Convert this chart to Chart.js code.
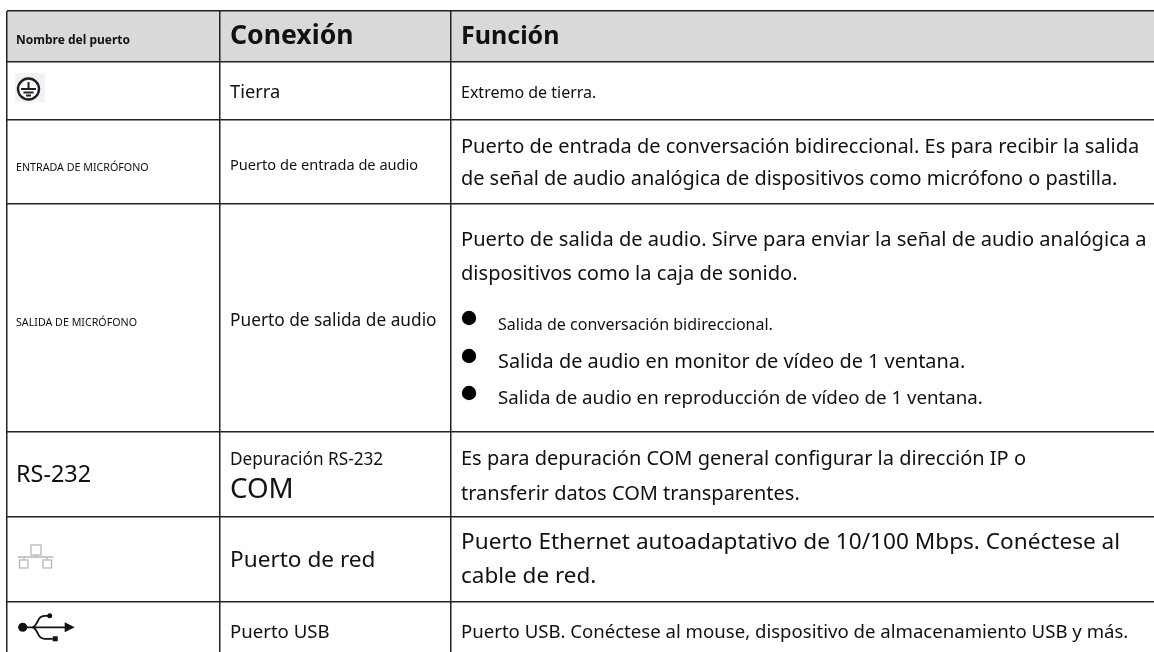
<!DOCTYPE html>
<html><head><meta charset="utf-8">
<style>html,body{margin:0;padding:0;background:#fff}#w{position:relative;width:1154px;height:652px}canvas{filter:blur(0.35px)}</style>
<script src="https://cdn.jsdelivr.net/npm/chart.js@4"></script>
</head><body><div id="w"><canvas id="c" width="1154" height="652"></canvas></div>
<script>
// Table structure
const columnEdges = [0, 213, 444];
const rowEdges = [0, 51, 109, 193, 421, 506, 591];
const headerBand = [0, 51];

// Cell texts
const headers = ["Nombre del puerto", "Conexión", "Función"];
const portNames = ["ENTRADA DE MICRÓFONO", "SALIDA DE MICRÓFONO", "RS-232"];
const connections = ["Tierra", "Puerto de entrada de audio", "Puerto de salida de audio", "Depuración RS-232", "COM", "Puerto de red", "Puerto USB"];
const functions = [
  "Extremo de tierra.",
  "Puerto de entrada de conversación bidireccional. Es para recibir la salida",
  "de señal de audio analógica de dispositivos como micrófono o pastilla.",
  "Puerto de salida de audio. Sirve para enviar la señal de audio analógica a",
  "dispositivos como la caja de sonido.",
  "Salida de conversación bidireccional.",
  "Salida de audio en monitor de vídeo de 1 ventana.",
  "Salida de audio en reproducción de vídeo de 1 ventana.",
  "Es para depuración COM general configurar la dirección IP o",
  "transferir datos COM transparentes.",
  "Puerto Ethernet autoadaptativo de 10/100 Mbps. Conéctese al",
  "cable de red.",
  "Puerto USB. Conéctese al mouse, dispositivo de almacenamiento USB y más."
];

// Text placement: [text, x, baseline y, size, weight]
const F = 'Noto Sans';
const placed = [
  [headers[0], 9, 33, 12, 700],
  [headers[1], 223, 33, 26.6, 700],
  [headers[2], 454, 33, 25, 700],
  [connections[0], 223, 86.7, 18.3, 400],
  [functions[0], 454, 86.7, 16, 400],
  [portNames[0], 9, 159.7, 10.7, 400],
  [connections[1], 223, 159, 14.6, 400],
  [functions[1], 454, 141.7, 20, 400],
  [functions[2], 454, 174, 19.9, 400],
  [portNames[1], 9, 315, 10.7, 400],
  [connections[2], 223, 315, 17.3, 400],
  [functions[3], 454, 234.7, 20.1, 400],
  [functions[4], 454, 269, 20.1, 400],
  [functions[5], 491, 319, 16, 400],
  [functions[6], 491, 357, 19.9, 400],
  [functions[7], 491, 393, 18.7, 400],
  [portNames[2], 9, 471, 23.4, 400],
  [connections[3], 223, 454, 17.2, 400],
  [connections[4], 223, 487, 27.7, 400],
  [functions[8], 454, 454, 20, 400],
  [functions[9], 454, 489, 20, 400],
  [connections[5], 223, 556, 22.6, 400],
  [functions[10], 454, 538, 22.6, 400],
  [functions[11], 454, 572, 22.5, 400],
  [connections[6], 223, 627, 18.6, 400],
  [functions[12], 454, 627, 18.6, 400]
];
const bullets = [[462, 307], [462, 345], [462, 382]];

const tablePlugin = {
  id: 'table',
  beforeDatasetsDraw(ch) {
    const {ctx, scales: {x, y}} = ch;
    ctx.save();
    ctx.globalCompositeOperation = 'destination-over';
    ctx.fillStyle = '#d9d9d9';
    ctx.fillRect(x.left, y.getPixelForValue(headerBand[0]), x.right - x.left, y.getPixelForValue(headerBand[1]) - y.getPixelForValue(headerBand[0]));
    ctx.restore();
  },
  afterDatasetsDraw(ch) {
    const {ctx, scales: {x, y}} = ch;
    const X = v => x.getPixelForValue(v), Y = v => y.getPixelForValue(v);
    ctx.save();
    ctx.fillStyle = '#111';
    ctx.textBaseline = 'alphabetic';
    ctx.textAlign = 'left';
    placed.forEach(([t, px, py, s, w]) => {
      ctx.font = `${w} ${s}px "${F}"`;
      ctx.fillText(t, X(px), Y(py));
    });
    // bullets
    ctx.fillStyle = '#000';
    bullets.forEach(([bx, by]) => { ctx.beginPath(); ctx.arc(X(bx), Y(by), 7.2, 0, 7); ctx.fill(); });
    // earth icon
    const ex = X(21.5), ey = Y(78);
    ctx.fillStyle = '#f0f2f5'; ctx.fillRect(ex - 13.5, ey - 16, 30, 29);
    ctx.strokeStyle = '#1c2126'; ctx.lineWidth = 2.4;
    ctx.fillStyle = '#fff'; ctx.beginPath(); ctx.arc(ex, ey, 10.5, 0, 7); ctx.fill(); ctx.stroke();
    ctx.lineWidth = 2;
    [[0, -7, 0, 0], [-7.5, 0, 7.5, 0], [-5, 3.5, 5, 3.5], [-2.5, 6.5, 2.5, 6.5]].forEach(([a, b, c, d]) => {
      ctx.beginPath(); ctx.moveTo(ex + a, ey + b); ctx.lineTo(ex + c, ey + d); ctx.stroke();
    });
    // network icon
    const nx = X(28.5), ny = Y(546);
    ctx.strokeStyle = '#b8b8b8'; ctx.lineWidth = 1.3;
    ctx.strokeRect(nx - 4.5, ny - 12, 10, 10);
    ctx.strokeRect(nx - 16, ny + 3, 8.5, 8);
    ctx.strokeRect(nx + 7.5, ny + 3, 8.5, 8);
    ctx.beginPath();
    ctx.moveTo(nx + 0.5, ny - 2); ctx.lineTo(nx + 0.5, ny);
    ctx.moveTo(nx - 18, ny); ctx.lineTo(nx + 18, ny);
    ctx.moveTo(nx - 11.5, ny); ctx.lineTo(nx - 11.5, ny + 3);
    ctx.moveTo(nx + 11.5, ny); ctx.lineTo(nx + 11.5, ny + 3);
    ctx.stroke();
    // usb icon
    const ux = X(9.7), uy = Y(616.3);
    ctx.strokeStyle = '#111'; ctx.fillStyle = '#111'; ctx.lineWidth = 1.8;
    ctx.beginPath(); ctx.arc(ux + 6, uy, 4.5, 0, 7); ctx.fill();
    ctx.beginPath(); ctx.moveTo(ux + 6, uy); ctx.lineTo(ux + 49, uy); ctx.stroke();
    ctx.beginPath(); ctx.moveTo(ux + 58, uy); ctx.lineTo(ux + 48, uy - 5); ctx.lineTo(ux + 48, uy + 5); ctx.closePath(); ctx.fill();
    ctx.beginPath(); ctx.moveTo(ux + 16, uy); ctx.bezierCurveTo(ux + 22, uy - 2, ux + 20, uy - 11.5, ux + 28, uy - 11.5); ctx.lineTo(ux + 33, uy - 11.5); ctx.stroke();
    ctx.beginPath(); ctx.arc(ux + 33, uy - 11.5, 2.5, 0, 7); ctx.fill();
    ctx.beginPath(); ctx.moveTo(ux + 16, uy); ctx.bezierCurveTo(ux + 22, uy + 2, ux + 20, uy + 11.5, ux + 28, uy + 11.5); ctx.lineTo(ux + 36, uy + 11.5); ctx.stroke();
    ctx.fillRect(ux + 36, uy + 9, 5, 5);
    ctx.restore();
  }
};

new Chart(document.getElementById('c'), {
  type: 'scatter',
  data: { datasets: [{ data: [], showLine: false }] },
  plugins: [tablePlugin],
  options: {
    responsive: false, animation: false,
    layout: { padding: { left: 7, top: 11, right: 0, bottom: 0 } },
    plugins: { legend: { display: false }, tooltip: { enabled: false } },
    scales: {
      x: {
        type: 'linear', min: 0, max: 1147,
        afterBuildTicks(s) { s.ticks = columnEdges.map(v => ({ value: v })); },
        ticks: { display: false },
        border: { display: false },
        grid: { color: '#222', lineWidth: 1.5, drawTicks: false }
      },
      y: {
        type: 'linear', reverse: true, min: 0, max: 641,
        afterBuildTicks(s) { s.ticks = rowEdges.map(v => ({ value: v })); },
        ticks: { display: false },
        border: { display: false },
        grid: { color: '#222', lineWidth: 1.5, drawTicks: false }
      }
    }
  }
});
</script></body></html>
